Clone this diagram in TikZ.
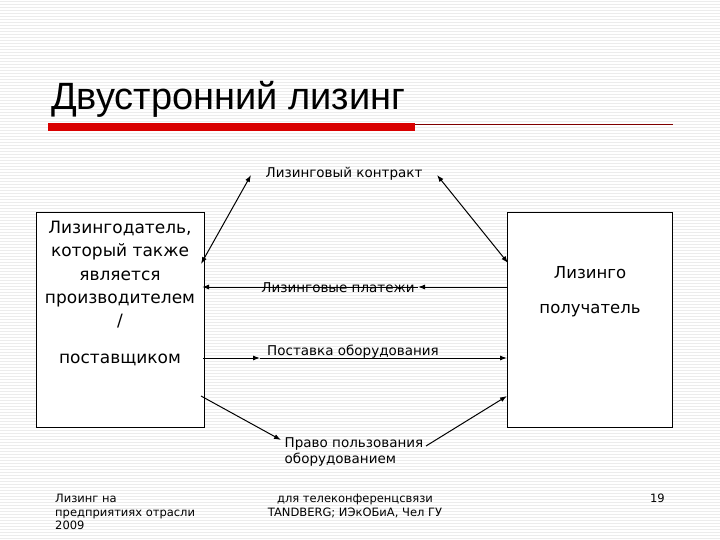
\documentclass[tikz,border=0pt]{standalone}
\usepackage{fontspec}
\setmainfont{DejaVu Sans}
\newfontfamily\titlefont{Liberation Sans}
\usetikzlibrary{arrows.meta}
\begin{document}
\begin{tikzpicture}[x=1pt,y=-1pt,
  box/.style={draw,line width=1pt,fill=white},
  lbl/.style={font=\fontsize{13.5}{16}\selectfont,inner sep=1pt},
  con/.style={line width=1pt,-{Latex[length=7pt,width=5pt]}},
  bcon/.style={line width=1pt,{Latex[length=7pt,width=5pt]}-{Latex[length=7pt,width=5pt]}}]
\useasboundingbox (0,0) rectangle (720,540);
\fill[white] (0,0) rectangle (720,540);
\foreach \y in {1,4,...,540} \draw[gray!15,line width=0.6pt] (0,\y) -- (720,\y);
% title
\node[anchor=base west,inner sep=0,font=\titlefont\fontsize{38}{40}\selectfont] (title) at (51,110) {Двустронний лизинг};
\fill[red!85!black] (48,123) rectangle (415,131);
\draw[red!50!black,line width=0.8pt] (415,124) -- (673,124);
% boxes
\node[box,minimum width=168pt,minimum height=215pt,anchor=north west] (L) at (36,212) {};
\node[box,minimum width=165pt,minimum height=215pt,anchor=north west] (R) at (507,212) {};
\node[align=center,font=\fontsize{17}{23.3}\selectfont,anchor=north,inner sep=0] (Lt) at (120,221) {Лизингодатель,\\который также\\является\\производителем\\/\\[13pt]поставщиком};
\node[align=center,font=\fontsize{16.5}{21}\selectfont] (Rt) at (590,292) {Лизинго\\[14pt]получатель};
% labels
\node[lbl] (k) at (344,174) {Лизинговый контракт};
\node[lbl] (p) at (338,288) {Лизинговые платежи};
\node[lbl] (s) at (353,352) {Поставка оборудования};
\node[lbl,align=left] (u) at (354,452) {Право пользования\\оборудованием};
% connectors
\coordinate (k1) at (251,175); \coordinate (k2) at (437,175);
\coordinate (L1) at (201,264); \coordinate (R1) at (508,263);
\draw[bcon] (k1) -- (L1);
\draw[bcon] (k2) -- (R1);
\coordinate (pR) at (507,287); \coordinate (pm) at (418,287); \coordinate (pL) at (202,287);
\draw[con] (pR) -- (pm);
\draw[con] (pm) -- (pL);
\coordinate (sL) at (203,358); \coordinate (sm) at (260,358); \coordinate (sR) at (507,358);
\draw[con] (sL) -- (sm);
\draw[con] (sm) -- (sR);
\coordinate (uL) at (201,396); \coordinate (u1) at (281,440);
\coordinate (u2) at (426,446); \coordinate (uR) at (507,396);
\draw[con] (uL) -- (u1);
\draw[con] (u2) -- (uR);
% footer
\node[anchor=north west,align=left,font=\fontsize{11.5}{13.5}\selectfont,inner sep=0] (f1) at (55,494) {Лизинг на\\предприятиях отрасли\\2009};
\node[anchor=north,align=center,font=\fontsize{11.5}{13.5}\selectfont,inner sep=0] (f2) at (355,494) {для телеконференцсвязи\\TANDBERG; ИЭкОБиА, Чел ГУ};
\node[anchor=north east,font=\fontsize{11.5}{13}\selectfont,inner sep=0] (f3) at (665,494) {19};
\end{tikzpicture}
\end{document}
